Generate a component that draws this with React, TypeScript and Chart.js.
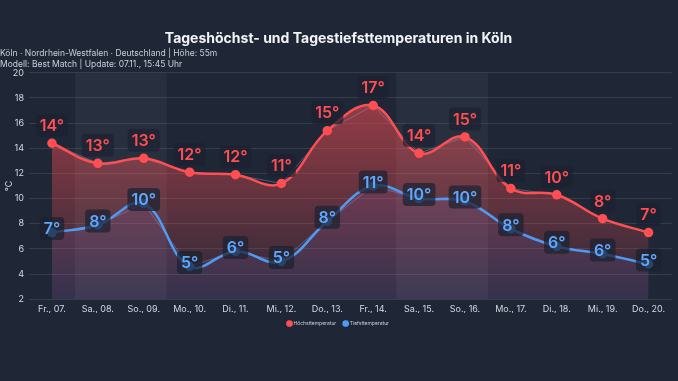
import React, { useEffect, useRef } from "react";
import { Chart, registerables } from "chart.js";

Chart.register(...registerables);

const categories = [
  "Fr., 07.", "Sa., 08.", "So., 09.", "Mo., 10.", "Di., 11.", "Mi., 12.", "Do., 13.",
  "Fr., 14.", "Sa., 15.", "So., 16.", "Mo., 17.", "Di., 18.", "Mi., 19.", "Do., 20.",
];
const highTemps = [14.4, 12.8, 13.2, 12.1, 11.9, 11.2, 15.4, 17.4, 13.6, 14.9, 10.8, 10.3, 8.4, 7.3];
const lowTemps = [7.3, 7.9, 9.6, 4.6, 5.8, 5.0, 8.2, 11.0, 10.0, 9.8, 7.6, 6.2, 5.6, 4.8];
const weekendRanges: [number, number][] = [[1, 2], [8, 9]];
const yTicks = [2, 4, 6, 8, 10, 12, 14, 16, 18, 20];

const TITLE = "Tageshöchst- und Tagestiefsttemperaturen in Köln";
const SUBTITLE = [
  "Köln · Nordrhein-Westfalen · Deutschland | Höhe: 55m",
  "Modell: Best Match | Update: 07.11., 15:45 Uhr",
];

const BG = "#1f2737";
const RED = "#ff4f52";
const BLUE = "#4d9bf5";
const FONT = "Inter";

const bandsPlugin = {
  id: "bands",
  beforeDatasetsDraw(chart: any) {
    const { ctx, chartArea, scales } = chart;
    const x = scales.x;
    const half = (x.getPixelForValue(1) - x.getPixelForValue(0)) / 2;
    ctx.save();
    ctx.fillStyle = "rgba(255,255,255,0.045)";
    weekendRanges.forEach(([a, b]) => {
      const x0 = x.getPixelForValue(a) - half;
      const x1 = x.getPixelForValue(b) + half;
      ctx.fillRect(x0, chartArea.top, x1 - x0, chartArea.bottom - chartArea.top);
    });
    ctx.restore();
  },
};

const labelsPlugin = {
  id: "valueLabels",
  afterDatasetsDraw(chart: any) {
    const ctx = chart.ctx;
    const cfgs = [
      { di: 1, dy: -4, color: "#5ea8ff" },
      { di: 0, dy: -18, color: RED },
    ];
    ctx.save();
    ctx.font = `600 16px ${FONT}`;
    ctx.textAlign = "center";
    ctx.textBaseline = "middle";
    cfgs.forEach((cfg) => {
      const meta = chart.getDatasetMeta(cfg.di);
      const data = chart.data.datasets[cfg.di].data as number[];
      meta.data.forEach((pt: any, i: number) => {
        const text = Math.round(data[i]) + "°";
        const w = ctx.measureText(text).width + 8;
        const h = 23;
        const cx = pt.x;
        const cy = pt.y + cfg.dy;
        ctx.fillStyle = "rgba(28,33,48,0.72)";
        ctx.beginPath();
        (ctx as any).roundRect(cx - w / 2, cy - h / 2, w, h, 4);
        ctx.fill();
        ctx.fillStyle = cfg.color;
        ctx.fillText(text, cx, cy + 1);
      });
    });
    ctx.restore();
  },
};

export default function App() {
  const ref = useRef<HTMLCanvasElement>(null);

  useEffect(() => {
    document.body.style.margin = "0";
    document.body.style.background = BG;
    const canvas = ref.current!;
    const redGrad = (context: any) => {
      const { chart } = context;
      const area = chart.chartArea;
      if (!area) return "rgba(255,79,82,0.3)";
      const g = chart.ctx.createLinearGradient(0, area.top, 0, area.bottom);
      g.addColorStop(0, "rgba(255,79,82,0.6)");
      g.addColorStop(1, "rgba(255,79,82,0.06)");
      return g;
    };
    const blueGrad = (context: any) => {
      const { chart } = context;
      const area = chart.chartArea;
      if (!area) return "rgba(110,110,255,0.12)";
      const g = chart.ctx.createLinearGradient(0, area.top, 0, area.bottom);
      g.addColorStop(0, "rgba(110,110,230,0.16)");
      g.addColorStop(1, "rgba(110,110,230,0.12)");
      return g;
    };
    const chart = new Chart(canvas, {
      type: "line",
      data: {
        labels: categories,
        datasets: [
          {
            label: "Höchsttemperatur",
            data: highTemps,
            borderColor: RED,
            backgroundColor: redGrad,
            pointBackgroundColor: RED,
            pointBorderColor: RED,
            pointRadius: 3.5,
            borderWidth: 2.5,
            tension: 0.4,
            fill: "start",
            order: 1,
          },
          {
            label: "Tiefsttemperatur",
            data: lowTemps,
            borderColor: BLUE,
            backgroundColor: blueGrad,
            pointBackgroundColor: BLUE,
            pointBorderColor: BLUE,
            pointRadius: 3.5,
            borderWidth: 2.5,
            tension: 0.4,
            fill: "start",
            order: 2,
          },
          {
            label: "_h",
            data: highTemps,
            borderColor: "rgba(130,150,200,0.45)",
            borderWidth: 1,
            pointRadius: 0,
            tension: 0,
            fill: false,
            order: 3,
          },
          {
            label: "_l",
            data: lowTemps,
            borderColor: "rgba(130,150,200,0.45)",
            borderWidth: 1,
            pointRadius: 0,
            tension: 0,
            fill: false,
            order: 4,
          },
        ],
      },
      options: {
        animation: false,
        responsive: true,
        maintainAspectRatio: false,
        layout: { padding: { top: 0, right: 1, bottom: 45, left: 0 } },
        plugins: {
          tooltip: { enabled: false },
          filler: { drawTime: "beforeDatasetsDraw" },
          title: {
            display: true,
            text: TITLE,
            color: "#f2f4f7",
            font: { family: FONT, size: 14, weight: "bold", lineHeight: 1 },
            padding: { top: 32, bottom: 1 },
          },
          subtitle: {
            display: true,
            text: SUBTITLE,
            align: "start",
            color: "#c9ced6",
            font: { family: FONT, size: 8.5, lineHeight: 1.4 },
            padding: { top: 0, bottom: 2 },
          },
          legend: {
            position: "bottom",
            labels: {
              filter: (item: any) => !item.text.startsWith("_"),
              usePointStyle: true,
              pointStyle: "circle",
              boxWidth: 3,
              boxHeight: 3,
              color: "#c9ced6",
              font: { family: FONT, size: 5 },
              padding: 8,
            },
          },
        },
        scales: {
          x: {
            offset: true,
            afterFit: (s: any) => { s.height = s.height - 7; },
            grid: { display: false, drawTicks: false },
            border: { display: false },
            ticks: { color: "#d5d9e0", font: { family: FONT, size: 9 }, padding: 5, maxRotation: 0, autoSkip: false },
          },
          y: {
            min: 2,
            max: 20,
            afterFit: (s: any) => { s.width = 29; },
            afterBuildTicks: (s: any) => { s.ticks = yTicks.map((v) => ({ value: v })); },
            grid: { color: "rgba(255,255,255,0.1)", drawTicks: false },
            border: { display: false },
            ticks: { color: "#d5d9e0", font: { family: FONT, size: 9 }, padding: 5 },
            title: {
              display: true,
              text: "°C",
              color: "#d5d9e0",
              font: { family: FONT, size: 9 },
              padding: { top: 4, bottom: 0 },
            },
          },
        },
      },
      plugins: [bandsPlugin, labelsPlugin],
    });
    return () => chart.destroy();
  }, []);

  return (
    <div style={{ position: "fixed", left: 0, top: 0, width: 678, height: 381, background: BG }}>
      <canvas ref={ref} />
    </div>
  );
}
